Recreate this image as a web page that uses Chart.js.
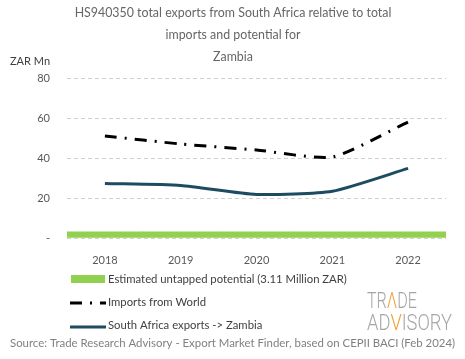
<!DOCTYPE html>
<html>
<head>
<meta charset="utf-8">
<script src="https://cdn.jsdelivr.net/npm/chart.js@4.4.1/dist/chart.umd.min.js"></script>
<style>
  html, body { margin: 0; padding: 0; background: #fff; }
  #wrap { width: 465px; height: 359px; position: relative; }
</style>
</head>
<body>
<div id="wrap"><canvas id="chart"></canvas></div>
<script>
const years = ['2018', '2019', '2020', '2021', '2022'];
const importsWorld = [51, 47, 44, 40.5, 58];
const saExports = [27.3, 26.3, 21.8, 23.4, 34.8];
const untapped = [3.11, 3.11, 3.11, 3.11, 3.11];
const yTicks = [0, 20, 40, 60, 80];

const titleLines = [
  'HS940350 total exports from South Africa relative to total',
  'imports and potential for',
  'Zambia'
];
const legendLabels = [
  'Estimated untapped potential (3.11 Million ZAR)',
  'Imports from World',
  'South Africa exports -> Zambia'
];
const sourceText = 'Source: Trade Research Advisory - Export Market Finder, based on CEPII BACI (Feb 2024)';

const FONT = 'Lato, "Open Sans", sans-serif';
const GREEN = '#92d050';
const TEAL = '#1d4c60';
const ORANGE = '#f0a030';
const LOGO_GREY = '#a6a6a6';

// draws coloured text pieces squeezed to a given width
function drawLogoLine(ctx, parts, x, y, width) {
  const total = parts.reduce((s, p) => s + ctx.measureText(p[0]).width, 0);
  ctx.save();
  ctx.translate(x, y);
  ctx.scale(width / total, 1);
  let cx = 0;
  parts.forEach(([txt, col]) => {
    ctx.fillStyle = col;
    ctx.fillText(txt, cx, 0);
    cx += ctx.measureText(txt).width;
  });
  ctx.restore();
}

// title, y-axis caption, legend, logo and source line
const extras = {
  id: 'extras',
  afterDraw(chart) {
    const ctx = chart.ctx;
    ctx.save();
    ctx.textBaseline = 'middle';

    ctx.fillStyle = '#666666';
    ctx.font = '12.4px ' + FONT;
    ctx.textAlign = 'center';
    ctx.fillText(titleLines[0], 233, 13);
    ctx.fillText(titleLines[1], 233, 35);
    ctx.fillText(titleLines[2], 233, 57);

    ctx.textAlign = 'left';
    ctx.fillStyle = '#404040';
    ctx.font = '11px ' + FONT;
    ctx.fillText('ZAR Mn', 10, 61);

    // legend
    ctx.font = '11.3px ' + FONT;
    ctx.fillStyle = GREEN;
    ctx.fillRect(71, 275, 34, 8);
    ctx.fillStyle = '#404040';
    ctx.fillText(legendLabels[0], 108, 279);

    ctx.strokeStyle = '#000';
    ctx.lineWidth = 3;
    ctx.setLineDash([12, 8, 2, 8]);
    ctx.beginPath();
    ctx.moveTo(70, 303);
    ctx.lineTo(106, 303);
    ctx.stroke();
    ctx.setLineDash([]);
    ctx.fillText(legendLabels[1], 108, 302);

    ctx.strokeStyle = TEAL;
    ctx.beginPath();
    ctx.moveTo(70, 327);
    ctx.lineTo(106, 327);
    ctx.stroke();
    ctx.fillText(legendLabels[2], 108, 325);

    // logo
    ctx.font = '300 22px Roboto, sans-serif';
    ctx.textBaseline = 'alphabetic';
    drawLogoLine(ctx, [['TR', LOGO_GREY], ['Λ', ORANGE], ['DE', LOGO_GREY]], 367, 308, 50);
    drawLogoLine(ctx, [['AD', LOGO_GREY], ['V', ORANGE], ['ISORY', LOGO_GREY]], 367, 330, 85);

    // source
    ctx.textBaseline = 'middle';
    ctx.font = '11.4px ' + FONT;
    ctx.fillStyle = '#808080';
    ctx.fillText(sourceText, 10, 343);
    ctx.restore();
  }
};

new Chart(document.getElementById('chart'), {
  data: {
    labels: years,
    datasets: [
      {
        type: 'line',
        label: legendLabels[1],
        data: importsWorld,
        borderColor: '#000',
        borderWidth: 3,
        borderDash: [12, 8, 2, 8],
        tension: 0.2,
        pointRadius: 0,
        fill: false,
        order: 1
      },
      {
        type: 'line',
        label: legendLabels[2],
        data: saExports,
        borderColor: TEAL,
        borderWidth: 3,
        tension: 0.2,
        pointRadius: 0,
        fill: false,
        order: 2
      },
      {
        type: 'bar',
        label: legendLabels[0],
        data: untapped,
        backgroundColor: GREEN,
        barPercentage: 1,
        categoryPercentage: 1,
        order: 3
      }
    ]
  },
  options: {
    responsive: true,
    maintainAspectRatio: false,
    animation: false,
    layout: { padding: { top: 78, right: 19, left: 0, bottom: 0 } },
    plugins: {
      legend: { display: false },
      title: { display: false },
      tooltip: { enabled: false }
    },
    scales: {
      x: {
        grid: { display: false },
        border: { display: false },
        ticks: { color: '#595959', font: { family: FONT, size: 11 }, padding: 8 },
        afterFit(scale) { scale.height = 121; }
      },
      y: {
        min: 0,
        max: 80,
        afterBuildTicks(scale) { scale.ticks = yTicks.map(v => ({ value: v })); },
        grid: { color: '#d0d0d0', drawTicks: false },
        border: { display: false, dash: [4, 3] },
        ticks: {
          color: '#595959',
          font: { family: FONT, size: 11 },
          padding: 17,
          callback: v => (v === 0 ? '-' : v)
        },
        afterFit(scale) { scale.width = 67; }
      }
    }
  },
  plugins: [extras]
});
</script>
</body>
</html>
